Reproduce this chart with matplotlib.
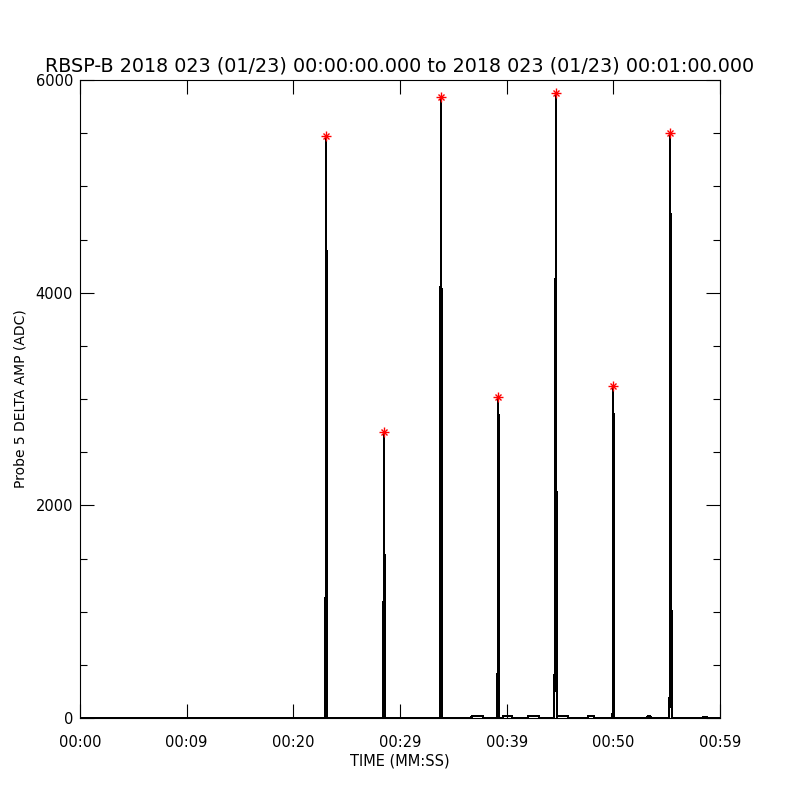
import numpy as np
import matplotlib
matplotlib.use("Agg")
import matplotlib.pyplot as plt
from matplotlib.ticker import MultipleLocator, FixedLocator

# peak time (s after 00:00:00) and peak amplitude (ADC) of each pulse
peak_times = [23.06, 28.50, 33.84, 39.22, 44.60, 50.00, 55.34]
peak_values = [5473, 2687, 5840, 3016, 5878, 3120, 5501]

# samples before / after the peak inside each pulse
pulse_rise = [[485], [118, 974], [3735], [259, 723], [757, 1210], [108], [409]]
pulse_fall = [[4384, 1650], [1460], [4102], [2235], [4155], [2028], [3167, 1692]]
DT = 0.045  # sample step inside a pulse (s)

# low level noise bursts on the baseline
burst_start = [36.70, 39.65, 42.00, 44.70, 47.60, 53.16, 58.40]
burst_end = [37.75, 40.50, 43.03, 45.75, 48.20, 53.50, 58.80]
burst_level = [20, 18, 20, 20, 16, 14, 12]

xtick_labels = ["00:00", "00:09", "00:20", "00:29", "00:39", "00:50", "00:59"]
title = "RBSP-B 2018 023 (01/23) 00:00:00.000 to 2018 023 (01/23) 00:01:00.000"

# build the time series
pts = [(0.0, 0.0), (60.0, 0.0)]
for t0, pk, rise, fall in zip(peak_times, peak_values, pulse_rise, pulse_fall):
    vals = [0] + rise + [pk] + fall + [0]
    i0 = len(rise) + 1
    for i, v in enumerate(vals):
        pts.append((t0 + (i - i0) * DT, v))
for a, b, lev in zip(burst_start, burst_end, burst_level):
    pts += [(a, 0), (a + 0.01, lev), (b - 0.01, lev), (b, 0)]
pts.sort(key=lambda p: p[0])
t = np.array([p[0] for p in pts])
v = np.array([p[1] for p in pts])

fig = plt.figure(figsize=(8, 8), dpi=100)
ax = fig.add_axes([0.1, 0.1025, 0.8, 0.7975])
ax.plot(t, v, color="black", lw=0.8, antialiased=False)
ax.plot(peak_times, peak_values, ls="none", marker="+", color="red", ms=7, mew=1)
ax.plot(peak_times, peak_values, ls="none", marker="x", color="red", ms=5, mew=1)

ax.set_xlim(0, 60)
ax.set_ylim(0, 6000)
ax.xaxis.set_major_locator(FixedLocator(np.arange(0, 61, 10)))
ax.set_xticklabels(xtick_labels)
ax.yaxis.set_major_locator(MultipleLocator(2000))
ax.yaxis.set_minor_locator(MultipleLocator(500))
ax.tick_params(direction="in", top=True, right=True, length=10, width=0.8,
               labelsize=10.5, pad=12)
ax.tick_params(axis="y", which="minor", direction="in", right=True, length=5, width=0.8)
ax.tick_params(axis="y", pad=5)
for s in ax.spines.values():
    s.set_linewidth(0.8)

ax.set_xlabel("TIME (MM:SS)", fontsize=10.5, labelpad=3)
ax.set_ylabel("Probe 5 DELTA AMP (ADC)", fontsize=10, labelpad=6)
ax.set_title(title, fontsize=13.8, pad=6)

fig.savefig("out.png", dpi=100)
